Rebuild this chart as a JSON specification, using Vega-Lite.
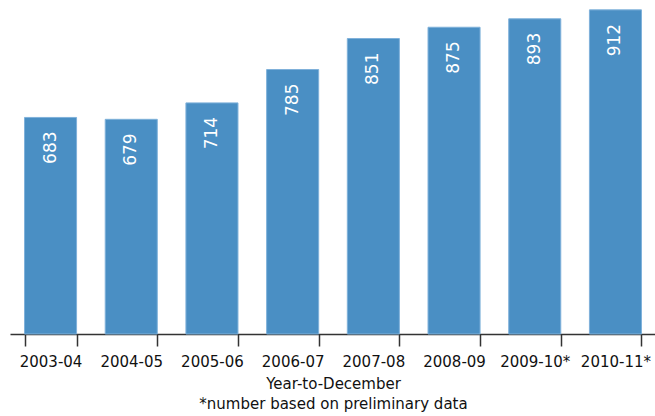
{
  "$schema": "https://vega.github.io/schema/vega-lite/v6.json",
  "width": 646,
  "height": 334,
  "autosize": {"type": "none"},
  "padding": {"left": 10, "top": 0, "right": 0, "bottom": 82},
  "background": "white",
  "config": {"view": {"stroke": null}, "font": "DejaVu Sans"},
  "data": {
    "values": [
      {"period": "2003-04", "count": 683},
      {"period": "2004-05", "count": 679},
      {"period": "2005-06", "count": 714},
      {"period": "2006-07", "count": 785},
      {"period": "2007-08", "count": 851},
      {"period": "2008-09", "count": 875},
      {"period": "2009-10*", "count": 893},
      {"period": "2010-11*", "count": 912}
    ]
  },
  "encoding": {
    "x": {
      "field": "period",
      "type": "nominal",
      "sort": null,
      "scale": {"paddingInner": 0.355, "paddingOuter": 0.18},
      "axis": {
        "title": ["Year-to-December", "*number based on preliminary data"],
        "labelAngle": 0,
        "tickBand": "extent",
        "tickSize": 12,
        "tickWidth": 1.5,
        "tickColor": "#333333",
        "domainColor": "#333333",
        "domainWidth": 1.5,
        "labelFont": "DejaVu Sans",
        "labelFontSize": 15,
        "labelColor": "#111111",
        "labelPadding": 8,
        "titleFont": "DejaVu Sans",
        "titleFontSize": 15,
        "titleFontWeight": "normal",
        "titleColor": "#111111",
        "titleLineHeight": 20,
        "titlePadding": 7
      }
    },
    "y": {
      "field": "count",
      "type": "quantitative",
      "scale": {"domain": [222, 933], "zero": false},
      "axis": null
    }
  },
  "layer": [
    {
      "mark": {"type": "bar", "color": "#4a8fc4", "stroke": "#7fb1da", "strokeWidth": 1},
      "encoding": {"y2": {"datum": 222}}
    },
    {
      "mark": {
        "type": "text",
        "angle": 270,
        "align": "right",
        "baseline": "middle",
        "dx": -14,
        "color": "white",
        "font": "DejaVu Sans",
        "fontSize": 17
      },
      "encoding": {"text": {"field": "count", "type": "quantitative"}}
    }
  ]
}
